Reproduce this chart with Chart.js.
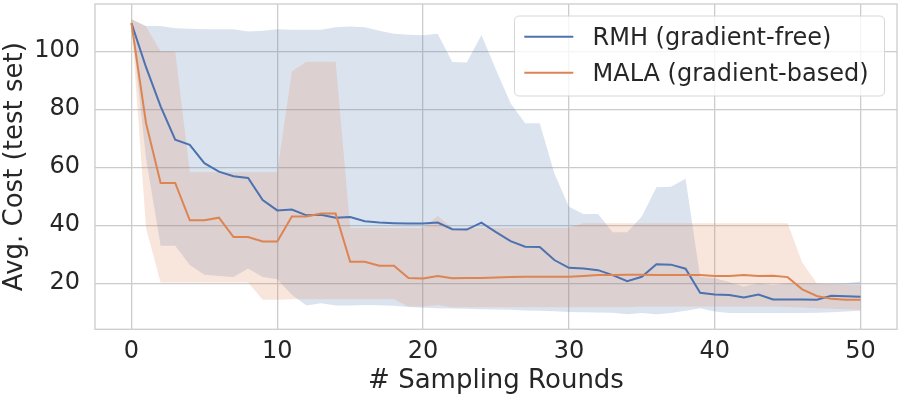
<!DOCTYPE html>
<html>
<head>
<meta charset="utf-8">
<script src="https://cdn.jsdelivr.net/npm/chart.js@4.4.1/dist/chart.umd.min.js"></script>
<style>
html,body{margin:0;padding:0;background:#fff;}
#wrap{width:900px;height:400px;}
</style>
</head>
<body>
<div id="wrap"><canvas id="c" width="900" height="400"></canvas></div>
<script>
const rounds = Array.from({length: 51}, (_, i) => i);

const rmhLabel = 'RMH (gradient-free)';
const malaLabel = 'MALA (gradient-based)';

const rmhMean = [109.7, 94.5, 81.0, 69.5, 67.7, 61.4, 58.5, 56.9, 56.3, 48.7,
  45.1, 45.4, 43.4, 43.6, 42.6, 42.8, 41.4, 40.9, 40.7, 40.6,
  40.6, 40.9, 38.6, 38.5, 40.9, 37.6, 34.5, 32.6, 32.5, 28.0,
  25.3, 25.1, 24.5, 22.8, 20.7, 22.2, 26.5, 26.4, 25.0, 16.7,
  16.1, 15.9, 15.1, 16.1, 14.4, 14.4, 14.4, 14.3, 15.7, 15.5, 15.3];
const rmhUpper = [111.0, 108.7, 108.7, 107.9, 107.8, 107.6, 107.6, 107.6, 106.8, 107.1,
  107.6, 107.4, 107.4, 107.4, 108.3, 108.5, 108.3, 107.1, 106.0, 105.7,
  105.5, 106.0, 96.3, 96.1, 105.6, 93.6, 82.1, 75.2, 75.2, 57.9,
  46.4, 43.9, 43.9, 37.6, 37.6, 43.0, 53.1, 53.3, 56.0, 22.1,
  21.8, 20.3, 18.9, 20.0, 19.4, 20.0, 20.0, 19.8, 19.8, 20.0, 20.6];
const rmhLower = [109.5, 63.0, 32.9, 32.9, 26.3, 22.9, 22.5, 22.1, 25.1, 22.1,
  21.4, 16.0, 12.3, 13.1, 12.3, 12.3, 12.5, 12.4, 12.2, 11.8,
  11.5, 11.4, 11.3, 11.2, 11.0, 10.9, 10.8, 10.6, 10.5, 10.3,
  10.1, 10.0, 9.9, 9.8, 9.3, 9.7, 9.3, 9.7, 10.5, 11.4,
  10.2, 9.7, 9.7, 9.7, 9.7, 9.7, 9.7, 9.8, 10.0, 10.2, 10.5];

const malaMean = [109.7, 75.2, 54.6, 54.6, 41.7, 41.7, 42.6, 35.9, 35.9, 34.4,
  34.4, 43.0, 43.0, 44.0, 44.0, 27.4, 27.4, 26.0, 26.0, 21.8,
  21.6, 22.5, 21.7, 21.8, 21.8, 22.0, 22.1, 22.2, 22.2, 22.2,
  22.2, 22.5, 22.8, 22.8, 22.9, 22.9, 22.8, 22.8, 22.8, 22.8,
  22.5, 22.5, 22.8, 22.5, 22.6, 22.1, 17.9, 15.6, 14.6, 14.3, 14.3];
const malaUpper = [111.0, 108.5, 99.9, 99.9, 58.3, 58.3, 58.3, 58.3, 58.3, 58.3,
  58.3, 93.0, 96.4, 96.4, 96.4, 39.0, 39.0, 39.0, 39.0, 39.0,
  39.0, 43.2, 39.0, 39.0, 39.0, 39.0, 39.0, 39.0, 39.0, 39.0,
  39.0, 40.7, 40.7, 40.7, 40.7, 40.7, 40.7, 40.7, 40.7, 40.7,
  40.7, 40.7, 40.7, 40.7, 40.7, 40.7, 27.1, 20.0, 19.7, 19.5, 19.2];
const malaLower = [109.5, 39.0, 20.2, 20.2, 20.2, 20.2, 20.2, 20.2, 20.2, 14.3,
  14.3, 14.5, 14.5, 14.5, 14.5, 14.5, 14.5, 14.5, 14.5, 12.0,
  12.0, 12.5, 11.7, 11.7, 11.7, 11.7, 11.7, 11.7, 11.7, 11.7,
  11.7, 11.7, 11.7, 11.7, 11.7, 12.0, 12.0, 12.0, 12.0, 12.0,
  12.0, 12.0, 12.0, 12.0, 12.0, 11.8, 11.6, 11.4, 11.2, 11.0, 10.8];

const xTickLabels = ['0', '10', '20', '30', '40', '50'];
const yTickLabels = ['20', '40', '60', '80', '100'];

const BLUE = '#4c72b0';
const ORANGE = '#dd8452';
const BLUE_FILL = 'rgba(76,114,176,0.2)';
const ORANGE_FILL = 'rgba(221,132,82,0.2)';
const TXT = '#262626';
const GRID = '#cccccc';
const FONT = "'DejaVu Sans', sans-serif";

const pts = arr => arr.map((v, i) => ({x: rounds[i], y: v}));

const band = (data, color, fill) => ({
  data: pts(data), borderWidth: 0, borderColor: 'rgba(0,0,0,0)',
  backgroundColor: color, pointRadius: 0, fill: fill, tension: 0
});

const frameAndLegend = {
  id: 'frameAndLegend',
  afterDatasetsDraw(chart) {
    const {ctx, chartArea: a} = chart;
    ctx.save();
    ctx.strokeStyle = GRID;
    ctx.lineWidth = 1.3;
    ctx.strokeRect(a.left, a.top, a.right - a.left, a.bottom - a.top);
    // legend
    const bx = 514.5, by = a.top + 12, bw = a.right - 12.5 - bx, bh = 80, r = 5;
    ctx.beginPath();
    ctx.moveTo(bx + r, by);
    ctx.lineTo(bx + bw - r, by);
    ctx.quadraticCurveTo(bx + bw, by, bx + bw, by + r);
    ctx.lineTo(bx + bw, by + bh - r);
    ctx.quadraticCurveTo(bx + bw, by + bh, bx + bw - r, by + bh);
    ctx.lineTo(bx + r, by + bh);
    ctx.quadraticCurveTo(bx, by + bh, bx, by + bh - r);
    ctx.lineTo(bx, by + r);
    ctx.quadraticCurveTo(bx, by, bx + r, by);
    ctx.closePath();
    ctx.fillStyle = 'rgba(255,255,255,0.8)';
    ctx.fill();
    ctx.strokeStyle = '#d6d6d6';
    ctx.lineWidth = 1;
    ctx.stroke();
    const items = [[rmhLabel, BLUE], [malaLabel, ORANGE]];
    ctx.font = '24px ' + FONT;
    ctx.textBaseline = 'alphabetic';
    ctx.textAlign = 'left';
    items.forEach((it, k) => {
      const y = by + 20.7 + k * 36;
      ctx.strokeStyle = it[1];
      ctx.lineWidth = 2;
      ctx.beginPath();
      ctx.moveTo(524.3, y);
      ctx.lineTo(573.3, y);
      ctx.stroke();
      ctx.fillStyle = TXT;
      ctx.fillText(it[0], 592.5, y + 8.6);
    });
    ctx.restore();
  }
};

new Chart(document.getElementById('c'), {
  type: 'line',
  data: {
    datasets: [
      {label: malaLabel, data: pts(malaMean), borderColor: ORANGE, borderWidth: 2, pointRadius: 0, fill: false, tension: 0},
      {label: rmhLabel, data: pts(rmhMean), borderColor: BLUE, borderWidth: 2, pointRadius: 0, fill: false, tension: 0},
      band(malaUpper, ORANGE_FILL, '+1'),
      band(malaLower, ORANGE_FILL, false),
      band(rmhUpper, BLUE_FILL, '+1'),
      band(rmhLower, BLUE_FILL, false)
    ]
  },
  options: {
    responsive: false,
    animation: false,
    devicePixelRatio: 1,
    layout: {padding: {top: 4, right: 3, left: 0, bottom: 0}},
    plugins: {
      legend: {display: false},
      tooltip: {enabled: false},
      filler: {drawTime: 'beforeDatasetsDraw'}
    },
    scales: {
      x: {
        type: 'linear', min: -2.5, max: 52.5,
        afterFit(s) { s.height = 70.7; s.paddingLeft = 0; s.paddingRight = 0; },
        grid: {color: GRID, lineWidth: 1.3, drawTicks: false},
        border: {display: false},
        ticks: {
          stepSize: 10, includeBounds: false, padding: 8, color: TXT,
          font: {family: FONT, size: 24},
          callback: (v) => xTickLabels.includes(String(v)) ? String(v) : null
        },
        title: {display: true, text: '# Sampling Rounds', color: TXT,
          font: {family: FONT, size: 26}, padding: {top: 0, bottom: 3.5}}
      },
      y: {
        type: 'linear', min: 4.1, max: 116.3,
        afterFit(s) { s.width = 95; s.paddingTop = 0; s.paddingBottom = 0; },
        grid: {color: GRID, lineWidth: 1.3, drawTicks: false},
        border: {display: false},
        ticks: {
          stepSize: 20, includeBounds: false, padding: 15, color: TXT,
          font: {family: FONT, size: 24},
          callback: (v) => yTickLabels.includes(String(v)) ? String(v) : null
        },
        title: {display: true, text: 'Avg. Cost (test set)', color: TXT,
          font: {family: FONT, size: 26}, padding: {top: 0, bottom: 0}}
      }
    }
  },
  plugins: [frameAndLegend]
});
</script>
</body>
</html>
